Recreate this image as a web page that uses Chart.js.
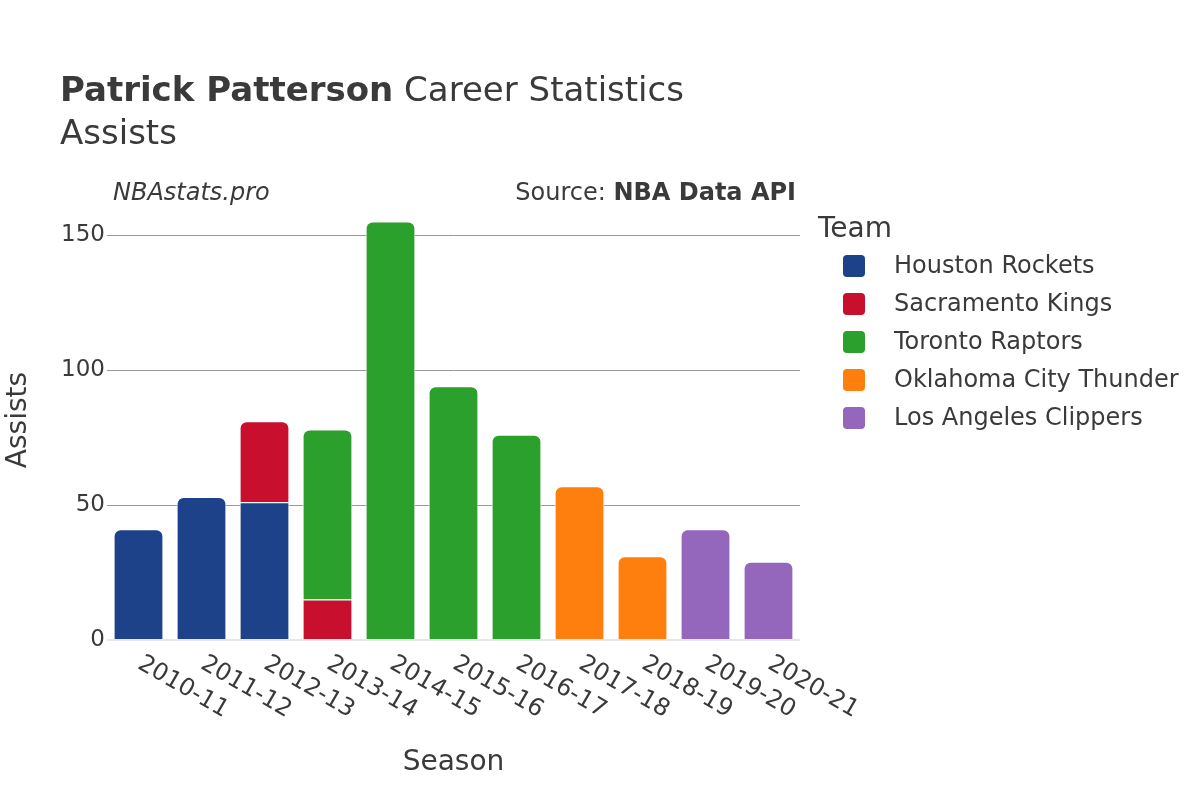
<!DOCTYPE html>
<html>
<head>
<meta charset="utf-8">
<script src="https://cdn.jsdelivr.net/npm/chart.js@4/dist/chart.umd.min.js"></script>
<style>
  html, body { margin: 0; padding: 0; background: #fff; }
  #wrap { width: 1200px; height: 800px; }
</style>
</head>
<body>
<div id="wrap"><canvas id="chart" width="1200" height="800"></canvas></div>
<script>
const seasons = ['2010-11', '2011-12', '2012-13', '2013-14', '2014-15', '2015-16', '2016-17', '2017-18', '2018-19', '2019-20', '2020-21'];
const teams = ['Houston Rockets', 'Sacramento Kings', 'Toronto Raptors', 'Oklahoma City Thunder', 'Los Angeles Clippers'];
const teamColors = ['#1d428a', '#c8102e', '#2ca02c', '#ff7f0e', '#9467bd'];

const houston = [41, 53, 51, null, null, null, null, null, null, null, null];
const sacramento = [null, null, 30, 15, null, null, null, null, null, null, null];
const toronto = [null, null, null, 63, 155, 94, 76, null, null, null, null];
const okc = [null, null, null, null, null, null, null, 57, 31, null, null];
const clippers = [null, null, null, null, null, null, null, null, null, 41, 29];

const yTicks = [0, 50, 100, 150];
const FONT = '"DejaVu Sans", "Noto Sans", sans-serif';
const TEXT = '#3a3a3a';

const seriesValues = [houston, sacramento, toronto, okc, clippers];

// only round the top segment of each stacked bar
function topRadius(ctx) {
  const i = ctx.dataIndex;
  let top = -1;
  seriesValues.forEach((s, d) => { if (s[i]) top = d; });
  return ctx.datasetIndex === top ? { topLeft: 7, topRight: 7, bottomLeft: 0, bottomRight: 0 } : 0;
}

const datasets = teams.map((name, d) => ({
  label: name,
  data: seriesValues[d],
  backgroundColor: teamColors[d],
  borderColor: '#ffffff',
  borderWidth: 1,
  borderSkipped: 'start',
  borderRadius: topRadius,
  categoryPercentage: 1,
  barPercentage: 0.79
}));

const textPlugin = {
  id: 'textPlugin',
  afterDraw(chart) {
    const c = chart.ctx;
    const area = chart.chartArea;
    c.save();
    c.fillStyle = TEXT;
    c.textBaseline = 'alphabetic';

    // title
    c.textAlign = 'left';
    c.font = 'bold 34px ' + FONT;
    const bold = 'Patrick Patterson';
    c.fillText(bold, 60, 101);
    const w = c.measureText(bold).width;
    c.font = '34px ' + FONT;
    c.fillText(' Career Statistics', 60 + w, 101);
    c.fillText('Assists', 60, 144);

    // subtitle row
    c.font = 'italic 24px ' + FONT;
    c.fillText('NBAstats.pro', 113, 200);
    c.textAlign = 'right';
    c.font = 'bold 24px ' + FONT;
    const src = 'NBA Data API';
    c.fillText(src, 796, 200);
    const sw = c.measureText(src).width;
    c.font = '24px ' + FONT;
    c.fillText('Source: ', 796 - sw, 200);

    // x tick labels, rotated down-right
    const xs = chart.scales.x;
    c.font = '24px ' + FONT;
    c.textAlign = 'left';
    c.textBaseline = 'middle';
    seasons.forEach((s, i) => {
      const x = xs.getPixelForValue(i);
      c.save();
      c.translate(x + 1, area.bottom + 22);
      c.rotate(Math.PI / 6);
      c.fillText(s, 0, 0);
      c.restore();
    });

    // axis titles
    c.textAlign = 'center';
    c.textBaseline = 'alphabetic';
    c.font = '28px ' + FONT;
    c.fillText('Season', (area.left + area.right) / 2, 770);
    c.save();
    c.translate(26, (area.top + area.bottom) / 2);
    c.rotate(-Math.PI / 2);
    c.fillText('Assists', 0, 0);
    c.restore();

    // legend
    c.textAlign = 'left';
    c.font = '28px ' + FONT;
    c.fillText('Team', 818, 237);
    c.font = '24px ' + FONT;
    c.textBaseline = 'middle';
    teams.forEach((t, d) => {
      const cy = 266 + d * 38;
      c.fillStyle = teamColors[d];
      c.beginPath();
      c.roundRect(843, cy - 11, 22, 22, 4);
      c.fill();
      c.fillStyle = TEXT;
      c.fillText(t, 894, cy + 1);
    });
    c.restore();
  }
};

new Chart(document.getElementById('chart'), {
  type: 'bar',
  data: { labels: seasons, datasets: datasets },
  options: {
    responsive: false,
    animation: false,
    layout: { padding: { top: 200, left: 0, right: 400, bottom: 0 } },
    plugins: {
      legend: { display: false },
      tooltip: { enabled: false }
    },
    scales: {
      x: {
        stacked: true,
        grid: { display: false },
        border: { display: false },
        ticks: { display: false },
        afterFit: (scale) => { scale.height = 160; }
      },
      y: {
        stacked: true,
        min: 0,
        max: 163,
        afterBuildTicks: (scale) => {
          scale.ticks = yTicks.map(v => ({ value: v }));
        },
        afterFit: (scale) => { scale.width = 107; },
        border: { display: false },
        grid: {
          drawTicks: false,
          color: (ctx) => ctx.tick && ctx.tick.value === 0 ? '#e6e6e6' : '#9a9a9a',
          lineWidth: (ctx) => ctx.tick && ctx.tick.value === 0 ? 2 : 1
        },
        ticks: {
          padding: 2,
          color: TEXT,
          font: { family: FONT, size: 23 }
        }
      }
    }
  },
  plugins: [textPlugin]
});
</script>
</body>
</html>
